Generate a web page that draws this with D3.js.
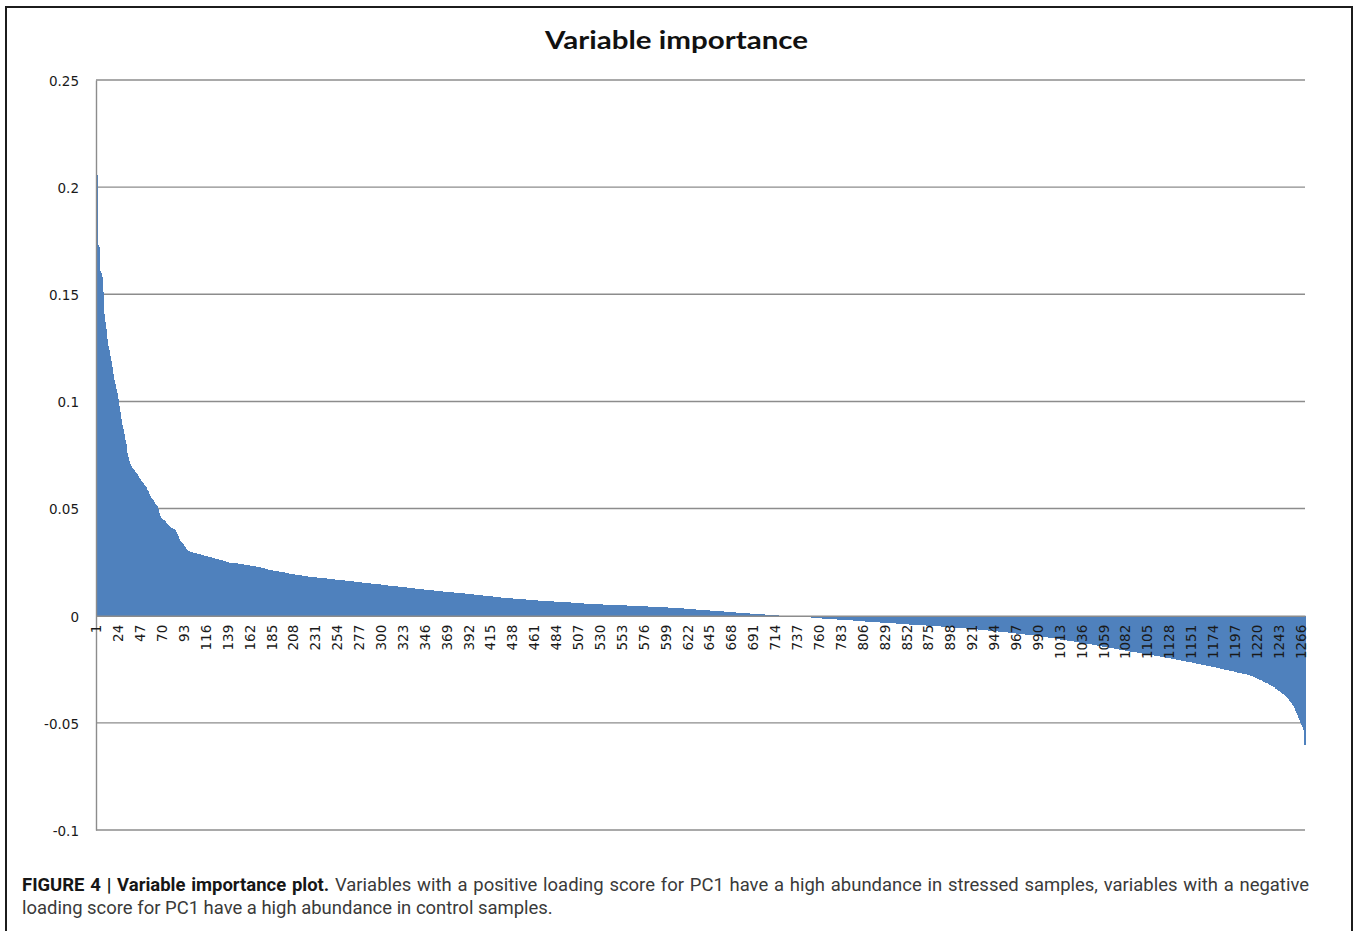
<!DOCTYPE html>
<html>
<head>
<meta charset="utf-8">
<title>Variable importance</title>
<script src="https://cdn.jsdelivr.net/npm/d3@7"></script>
<style>
  html, body { margin: 0; padding: 0; background: #fff; }
  svg { display: block; }
</style>
</head>
<body>
<svg id="chart" width="1354" height="931"></svg>
<script>
// PC1 loading score of each variable, sorted from highest to lowest.
// Variables 1-100: the steep head of the distribution.
const loadingsHead = [
  .2055,.173,.172,.161,.160,.158,.151,.141,.137,.134,.131,.129,.126,.124,.121,.119,.116,.113,.110,.108,
  .106,.104,.101,.098,.095,.092,.089,.087,.085,.082,.080,.078,.076,.074,.072,.071,.070,.069,.0685,.068,
  .067,.0665,.066,.065,.0645,.064,.063,.0625,.062,.061,.0605,.060,.059,.0585,.058,.057,.056,.055,.0545,.054,
  .053,.052,.0515,.051,.050,.048,.0465,.0455,.045,.0447,.0445,.0442,.0438,.0433,.043,.0425,.042,.0413,.041,.0408,
  .0405,.0403,.040,.0392,.038,.0372,.036,.035,.0345,.034,.0333,.0325,.032,.0315,.031,.0307,.0304,.0302,.0299,.0298
];
// Variables 101-300.
const loadingsShoulder = [
  .0296,.0295,.0293,.0292,.0291,.0290,.0289,.0287,.0286,.0284,.0283,.0282,.0281,.0280,.0279,.0278,.0277,.0276,.0275,.0273,
  .0272,.0270,.0269,.0268,.0266,.0265,.0264,.0263,.0262,.0260,.0259,.0258,.0257,.0256,.0255,.0254,.0252,.0251,.0250,.0248,
  .0247,.0247,.0246,.0246,.0245,.0245,.0244,.0244,.0243,.0242,.0242,.0241,.0241,.0240,.0239,.0238,.0238,.0237,.0236,.0235,
  .0235,.0234,.0233,.0232,.0232,.0231,.0230,.0229,.0229,.0228,.0227,.0226,.0225,.0224,.0223,.0222,.0220,.0219,.0218,.0216,
  .0215,.0214,.0213,.0213,.0212,.0211,.0210,.0209,.0208,.0208,.0207,.0206,.0205,.0204,.0204,.0203,.0202,.0201,.0201,.0200,
  .0199,.0198,.0197,.0196,.0196,.0195,.0194,.0193,.0192,.0192,.0191,.0190,.0189,.0189,.0188,.0187,.0187,.0186,.0186,.0185,
  .0184,.0184,.0183,.0183,.0182,.0181,.0181,.0180,.0180,.0179,.0179,.0178,.0178,.0177,.0177,.0176,.0176,.0175,.0175,.0175,
  .0174,.0174,.0173,.0173,.0172,.0172,.0171,.0171,.0170,.0170,.0169,.0169,.0168,.0168,.0167,.0167,.0166,.0166,.0165,.0165,
  .0164,.0164,.0163,.0163,.0162,.0162,.0161,.0161,.0160,.0160,.0159,.0159,.0158,.0158,.0157,.0157,.0156,.0156,.0155,.0155,
  .0154,.0154,.0153,.0153,.0152,.0152,.0151,.0151,.0150,.0150,.0149,.0149,.0148,.0148,.0147,.0147,.0146,.0146,.0145,.0145
];
// Variables 301-730: the long, slowly falling positive plateau.
const loadingsPlateau = [
  .0144,.0144,.0143,.0143,.0142,.0142,.0141,.0141,.0140,.0140,.0139,.0139,.0138,.0138,.0137,.0137,.0136,.0136,.0135,.0135,
  .0134,.0134,.0133,.0133,.0132,.0132,.0131,.0131,.0130,.0130,.0129,.0129,.0128,.0128,.0127,.0126,.0126,.0125,.0125,.0124,
  .0124,.0123,.0123,.0122,.0122,.0121,.0121,.0120,.0120,.0119,.0119,.0118,.0118,.0118,.0117,.0117,.0116,.0116,.0115,.0115,
  .0115,.0114,.0114,.0113,.0113,.0112,.0112,.0112,.0111,.0111,.0110,.0110,.0109,.0109,.0109,.0108,.0108,.0107,.0107,.0106,
  .0106,.0106,.0105,.0105,.0104,.0104,.0104,.0103,.0103,.0103,.0102,.0102,.0101,.0101,.0100,.0100,.0099,.0099,.0098,.0098,
  .0097,.0097,.0096,.0096,.0095,.0095,.0094,.0094,.0093,.0093,.0092,.0092,.0091,.0091,.0090,.0090,.0089,.0089,.0088,.0088,
  .0087,.0087,.0086,.0086,.0085,.0085,.0085,.0084,.0084,.0083,.0083,.0083,.0082,.0082,.0082,.0081,.0081,.0080,.0080,.0080,
  .0079,.0079,.0079,.0078,.0078,.0077,.0077,.0077,.0076,.0076,.0076,.0075,.0075,.0075,.0074,.0074,.0074,.0073,.0073,.0073,
  .0072,.0072,.0072,.0071,.0071,.0071,.0070,.0070,.0070,.0069,.0069,.0069,.0069,.0068,.0068,.0068,.0068,.0067,.0067,.0067,
  .0066,.0066,.0066,.0066,.0065,.0065,.0065,.0064,.0064,.0064,.0064,.0063,.0063,.0063,.0062,.0062,.0062,.0062,.0061,.0061,
  .0061,.0060,.0060,.0060,.0060,.0059,.0059,.0059,.0058,.0058,.0058,.0058,.0057,.0057,.0057,.0057,.0056,.0056,.0056,.0056,
  .0055,.0055,.0055,.0055,.0054,.0054,.0054,.0054,.0053,.0053,.0053,.0053,.0052,.0052,.0052,.0052,.0051,.0051,.0051,.0051,
  .0050,.0050,.0050,.0050,.0050,.0049,.0049,.0049,.0049,.0049,.0049,.0048,.0048,.0048,.0048,.0048,.0048,.0047,.0047,.0047,
  .0047,.0047,.0047,.0046,.0046,.0046,.0046,.0046,.0046,.0045,.0045,.0045,.0045,.0045,.0044,.0044,.0044,.0044,.0044,.0043,
  .0043,.0043,.0043,.0042,.0042,.0042,.0042,.0042,.0041,.0041,.0041,.0041,.0040,.0040,.0040,.0040,.0039,.0039,.0039,.0039,
  .0038,.0038,.0038,.0038,.0037,.0037,.0037,.0037,.0036,.0036,.0036,.0035,.0035,.0035,.0034,.0034,.0034,.0033,.0033,.0033,
  .0032,.0032,.0032,.0031,.0031,.0031,.0030,.0030,.0030,.0029,.0029,.0029,.0028,.0028,.0028,.0027,.0027,.0027,.0026,.0026,
  .0026,.0025,.0025,.0025,.0024,.0024,.0024,.0023,.0023,.0023,.0022,.0022,.0022,.0021,.0021,.0021,.0020,.0020,.0020,.0019,
  .0019,.0019,.0018,.0018,.0018,.0017,.0017,.0017,.0016,.0016,.0016,.0015,.0015,.0015,.0014,.0014,.0014,.0013,.0013,.0013,
  .0012,.0012,.0012,.0011,.0011,.0011,.0010,.0010,.0010,.0010,.0009,.0009,.0009,.0008,.0008,.0008,.0007,.0007,.0007,.0006,
  .0006,.0006,.0005,.0005,.0005,.0004,.0004,.0004,.0003,.0003,.0003,.0003,.0002,.0002,.0002,.0002,.0001,.0001,.0001,.0001,
  .00008,.00006,.00005,.00003,.00002,.00001,-.00001,-.00002,-.00003,-.00005
];
// Variables 731-1270: negative loadings, falling to the steep tail.
const loadingsNegative = [
  -.0001,-.0001,-.0002,-.0002,-.0003,-.0003,-.0003,-.0004,-.0004,-.0005,-.0005,-.0005,-.0006,-.0006,-.0006,-.0007,-.0007,-.0007,-.0008,-.0008,
  -.0008,-.0009,-.0009,-.0009,-.0010,-.0010,-.0010,-.0011,-.0011,-.0011,-.0012,-.0012,-.0012,-.0013,-.0013,-.0013,-.0014,-.0014,-.0014,-.0015,
  -.0015,-.0015,-.0016,-.0016,-.0016,-.0017,-.0017,-.0017,-.0018,-.0018,-.0018,-.0019,-.0019,-.0019,-.0019,-.0020,-.0020,-.0020,-.0021,-.0021,
  -.0021,-.0021,-.0022,-.0022,-.0022,-.0023,-.0023,-.0023,-.0024,-.0024,-.0024,-.0025,-.0025,-.0025,-.0026,-.0026,-.0026,-.0026,-.0027,-.0027,
  -.0027,-.0028,-.0028,-.0028,-.0029,-.0029,-.0029,-.0030,-.0030,-.0030,-.0031,-.0031,-.0031,-.0031,-.0032,-.0032,-.0032,-.0033,-.0033,-.0033,
  -.0034,-.0034,-.0034,-.0035,-.0035,-.0035,-.0035,-.0036,-.0036,-.0036,-.0037,-.0037,-.0037,-.0038,-.0038,-.0038,-.0038,-.0039,-.0039,-.0039,
  -.0040,-.0040,-.0040,-.0040,-.0041,-.0041,-.0041,-.0042,-.0042,-.0042,-.0042,-.0043,-.0043,-.0043,-.0043,-.0044,-.0044,-.0044,-.0045,-.0045,
  -.0045,-.0045,-.0046,-.0046,-.0046,-.0047,-.0047,-.0047,-.0047,-.0048,-.0048,-.0048,-.0049,-.0049,-.0049,-.0050,-.0050,-.0050,-.0051,-.0051,
  -.0051,-.0052,-.0052,-.0052,-.0053,-.0053,-.0053,-.0054,-.0054,-.0054,-.0055,-.0055,-.0055,-.0056,-.0056,-.0056,-.0057,-.0057,-.0057,-.0058,
  -.0058,-.0058,-.0059,-.0059,-.0060,-.0060,-.0060,-.0061,-.0061,-.0062,-.0062,-.0062,-.0063,-.0063,-.0064,-.0064,-.0064,-.0065,-.0065,-.0066,
  -.0066,-.0066,-.0067,-.0067,-.0068,-.0068,-.0068,-.0069,-.0069,-.0070,-.0070,-.0071,-.0071,-.0071,-.0072,-.0072,-.0073,-.0073,-.0074,-.0074,
  -.0075,-.0075,-.0076,-.0076,-.0077,-.0077,-.0078,-.0078,-.0079,-.0079,-.0080,-.0080,-.0081,-.0081,-.0082,-.0082,-.0083,-.0083,-.0084,-.0084,
  -.0085,-.0085,-.0086,-.0086,-.0087,-.0087,-.0088,-.0088,-.0089,-.0089,-.0090,-.0090,-.0091,-.0091,-.0092,-.0092,-.0093,-.0093,-.0094,-.0094,
  -.0095,-.0096,-.0096,-.0097,-.0098,-.0098,-.0099,-.0100,-.0100,-.0101,-.0102,-.0102,-.0103,-.0104,-.0104,-.0105,-.0106,-.0106,-.0107,-.0108,
  -.0109,-.0109,-.0110,-.0111,-.0111,-.0112,-.0113,-.0113,-.0114,-.0115,-.0116,-.0116,-.0117,-.0118,-.0118,-.0119,-.0120,-.0121,-.0121,-.0122,
  -.0123,-.0124,-.0124,-.0125,-.0126,-.0127,-.0127,-.0128,-.0129,-.0130,-.0131,-.0131,-.0132,-.0133,-.0134,-.0134,-.0135,-.0136,-.0137,-.0137,
  -.0138,-.0139,-.0140,-.0140,-.0141,-.0142,-.0143,-.0144,-.0144,-.0145,-.0146,-.0147,-.0148,-.0148,-.0149,-.0150,-.0151,-.0152,-.0152,-.0153,
  -.0154,-.0155,-.0156,-.0156,-.0157,-.0158,-.0159,-.0160,-.0160,-.0161,-.0162,-.0163,-.0164,-.0164,-.0165,-.0166,-.0167,-.0168,-.0168,-.0169,
  -.0170,-.0171,-.0171,-.0172,-.0173,-.0174,-.0174,-.0175,-.0176,-.0177,-.0177,-.0178,-.0179,-.0180,-.0180,-.0181,-.0182,-.0183,-.0183,-.0184,
  -.0185,-.0186,-.0186,-.0187,-.0188,-.0189,-.0189,-.0190,-.0191,-.0192,-.0193,-.0193,-.0194,-.0195,-.0196,-.0197,-.0197,-.0198,-.0199,-.0200,
  -.0201,-.0202,-.0202,-.0203,-.0204,-.0205,-.0206,-.0207,-.0208,-.0208,-.0209,-.0210,-.0211,-.0212,-.0213,-.0214,-.0214,-.0215,-.0216,-.0217,
  -.0218,-.0219,-.0220,-.0221,-.0222,-.0222,-.0223,-.0224,-.0225,-.0226,-.0227,-.0228,-.0229,-.0230,-.0231,-.0232,-.0233,-.0234,-.0234,-.0235,
  -.0236,-.0237,-.0238,-.0239,-.0240,-.0241,-.0242,-.0243,-.0244,-.0245,-.0246,-.0247,-.0248,-.0249,-.0250,-.0251,-.0252,-.0253,-.0254,-.0255,
  -.0256,-.0257,-.0258,-.0259,-.0260,-.0261,-.0262,-.0263,-.0264,-.0265,-.0266,-.0267,-.0268,-.0269,-.0270,-.0271,-.0272,-.0273,-.0274,-.0275,
  -.0277,-.0278,-.0280,-.0281,-.0283,-.0285,-.0286,-.0288,-.0290,-.0292,-.0294,-.0296,-.0298,-.0300,-.0302,-.0304,-.0307,-.0309,-.0312,-.0314,
  -.0316,-.0318,-.0321,-.0323,-.0326,-.0328,-.0331,-.0334,-.0337,-.0340,-.0343,-.0346,-.0349,-.0352,-.0356,-.0359,-.0363,-.0367,-.0371,-.0375,
  -.0380,-.0385,-.0390,-.0396,-.0402,-.0408,-.0415,-.0422,-.0430,-.0438,-.0446,-.0455,-.0465,-.0476,-.0488,-.0500,-.0510,-.0520,-.0533,-.0605
];

// Category labels shown along the horizontal axis (every 23rd variable).
const xTickLabels = [
  1, 24, 47, 70, 93, 116, 139, 162, 185, 208, 231, 254, 277, 300, 323, 346, 369, 392, 415, 438,
  461, 484, 507, 530, 553, 576, 599, 622, 645, 668, 691, 714, 737, 760, 783, 806, 829, 852, 875, 898,
  921, 944, 967, 990, 1013, 1036, 1059, 1082, 1105, 1128, 1151, 1174, 1197, 1220, 1243, 1266
];
const yTickValues = [0.25, 0.2, 0.15, 0.1, 0.05, 0, -0.05, -0.1];
const yTickLabels = ["0.25", "0.2", "0.15", "0.1", "0.05", "0", "-0.05", "-0.1"];

const chartTitle = "Variable importance";
const captionLead = "FIGURE 4 | Variable importance plot.";
const captionRest = " Variables with a positive loading score for PC1 have a high abundance in stressed samples, variables with a negative";
const captionLine2 = "loading score for PC1 have a high abundance in control samples.";

// ---------------------------------------------------------------------------
const loadings = [...loadingsHead, ...loadingsShoulder, ...loadingsPlateau, ...loadingsNegative];
const variables = loadings.map((value, i) => ({ id: i + 1, value }));

const svg = d3.select("#chart");
const plot = { left: 96, right: 1305, top: 80, bottom: 830 };
const barColor = "#4f81bd";
const gridColor = "#8c8c8c";
const tickFont = "'DejaVu Sans', sans-serif";

const x = d3.scaleBand()
  .domain(variables.map(d => d.id))
  .range([plot.left, plot.right])
  .padding(0);

const y = d3.scaleLinear()
  .domain([-0.1, 0.25])
  .range([plot.bottom, plot.top]);

// Outer figure frame
svg.append("rect")
  .attr("x", 6).attr("y", 7)
  .attr("width", 1346).attr("height", 1000)
  .attr("fill", "none")
  .attr("stroke", "#1c1c1c")
  .attr("stroke-width", 2);

// Chart title
const title = svg.append("text")
  .attr("x", 676.5).attr("y", 49)
  .attr("text-anchor", "middle")
  .style("font-family", "Lato, 'Open Sans', sans-serif")
  .style("font-weight", "bold")
  .style("font-size", "25px")
  .attr("fill", "#111")
  .text(chartTitle);
title.attr("textLength", 263).attr("lengthAdjust", "spacingAndGlyphs");

// Horizontal gridlines
svg.append("g")
  .selectAll("line")
  .data(yTickValues.filter(v => v !== 0))
  .join("line")
  .attr("x1", plot.left).attr("x2", plot.right)
  .attr("y1", d => y(d)).attr("y2", d => y(d))
  .attr("stroke", gridColor)
  .attr("stroke-width", 1.4);

// Bars: pixel-snapped and one pixel wider than the band so that the
// dense neighbouring bars merge into one solid area.
svg.append("g")
  .attr("shape-rendering", "crispEdges")
  .selectAll("rect")
  .data(variables)
  .join("rect")
  .attr("x", d => x(d.id))
  .attr("width", x.bandwidth() + 1)
  .attr("y", d => y(Math.max(0, d.value)))
  .attr("height", d => Math.abs(y(d.value) - y(0)))
  .attr("fill", barColor);

// Vertical axis
const yAxis = svg.append("g")
  .attr("transform", `translate(${plot.left},0)`)
  .call(d3.axisLeft(y)
    .tickValues(yTickValues)
    .tickFormat((d, i) => yTickLabels[i])
    .tickSize(0)
    .tickPadding(17));
yAxis.select(".domain").attr("stroke", gridColor).attr("stroke-width", 1.4);
yAxis.selectAll("text")
  .style("font-family", tickFont)
  .style("font-size", "13.5px")
  .attr("fill", "#1a1a1a")
  .attr("dy", "0.4em");

// Horizontal (category) axis at zero, drawn over the bars
const xAxis = svg.append("g")
  .attr("transform", `translate(0,${y(0)})`)
  .call(d3.axisBottom(x)
    .tickValues(xTickLabels)
    .tickSize(0)
    .tickSizeOuter(0)
    .tickPadding(0));
xAxis.select(".domain").attr("stroke", gridColor).attr("stroke-width", 1.4);
xAxis.selectAll("text")
  .style("font-family", tickFont)
  .style("font-size", "13.5px")
  .attr("fill", "#1a1a1a")
  .attr("text-anchor", "end")
  .attr("transform", "rotate(-90)")
  .attr("x", -9)
  .attr("y", 0)
  .attr("dy", "0.36em");

// Figure caption
const captionFont = "Roboto, 'Liberation Sans', sans-serif";
const cap2 = svg.append("text")
  .attr("x", 22).attr("y", 914)
  .style("font-family", captionFont)
  .style("font-size", "17px")
  .attr("fill", "#3a3a3a")
  .text(captionLine2);
const fitSize = 17 * 531 / cap2.node().getComputedTextLength();
cap2.style("font-size", fitSize + "px");

const cap1 = svg.append("text")
  .attr("x", 22).attr("y", 891)
  .style("font-family", captionFont)
  .style("font-size", fitSize + "px")
  .style("white-space", "pre");
cap1.append("tspan").attr("font-weight", "bold").attr("fill", "#161616").text(captionLead);
cap1.append("tspan").attr("fill", "#3a3a3a").text(captionRest);
const naturalWidth = cap1.node().getComputedTextLength();
const gaps = (captionLead + captionRest).split(" ").length - 1;
cap1.style("word-spacing", ((1309 - 22 - naturalWidth) / gaps) + "px");
</script>
</body>
</html>
